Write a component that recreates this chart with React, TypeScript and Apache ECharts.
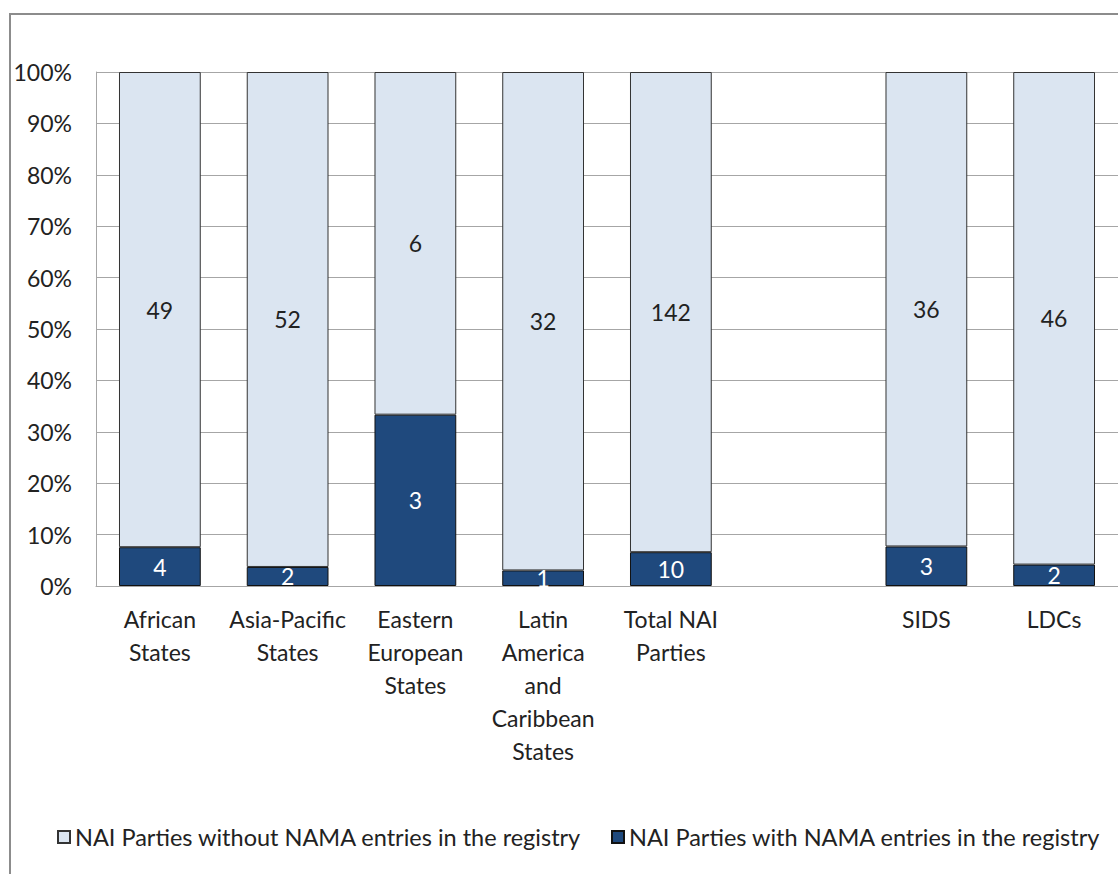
import React, { useEffect, useRef } from "react";
import * as echarts from "echarts";

const categories = [
  "African\nStates",
  "Asia-Pacific\nStates",
  "Eastern\nEuropean\nStates",
  "Latin\nAmerica\nand\nCaribbean\nStates",
  "Total NAI\nParties",
  "",
  "SIDS",
  "LDCs",
];
const withNama: (number | null)[] = [4, 2, 3, 1, 10, null, 3, 2];
const withoutNama: (number | null)[] = [49, 52, 6, 32, 142, null, 36, 46];
const seriesNames = [
  "NAI Parties without NAMA entries in the registry",
  "NAI Parties with NAMA entries in the registry",
];
const yTicks = { min: 0, max: 100, interval: 10 };

const FONT = "Lato";
const FS = 23;

export default function App() {
  const ref = useRef<HTMLDivElement>(null);
  useEffect(() => {
    if (!ref.current) return;
    const chart = echarts.init(ref.current, undefined, { renderer: "svg" });
    const pct = (arr: (number | null)[], i: number) => {
      const a = withNama[i];
      const b = withoutNama[i];
      if (a == null || b == null || arr[i] == null) return null;
      return ((arr[i] as number) / (a + b)) * 100;
    };
    const withPct = withNama.map((_, i) => ({ value: pct(withNama, i), raw: withNama[i] }));
    const withoutPct = withoutNama.map((_, i) => ({ value: pct(withoutNama, i), raw: withoutNama[i] }));
    const legendBase = {
      top: 820,
      itemWidth: 12,
      itemHeight: 12,
      icon: "rect",
      textStyle: { fontFamily: FONT, fontSize: 23.5, color: "#222" },
    };
    chart.setOption({
      animation: false,
      backgroundColor: "#ffffff",
      textStyle: { fontFamily: FONT },
      graphic: [
        {
          type: "rect",
          shape: { x: 10, y: 14, width: 1300, height: 1000 },
          style: { fill: "none", stroke: "#8c8c8c", lineWidth: 2 },
          z: 0,
        },
      ],
      grid: { left: 96, top: 72, bottom: 288, right: -6, containLabel: false },
      legend: [
        { ...legendBase, left: 52, data: [seriesNames[0]] },
        { ...legendBase, left: 606, data: [seriesNames[1]] },
      ],
      xAxis: {
        type: "category",
        data: categories,
        axisTick: { show: false },
        axisLine: { lineStyle: { color: "#a6a6a6", width: 1 } },
        axisLabel: {
          interval: 0,
          margin: 16,
          fontFamily: FONT,
          fontSize: FS,
          lineHeight: 33,
          color: "#222",
          verticalAlign: "top",
        },
      },
      yAxis: {
        type: "value",
        ...yTicks,
        axisLine: { show: true, lineStyle: { color: "#a6a6a6", width: 1 } },
        axisTick: { show: false },
        splitLine: { lineStyle: { color: "#a6a6a6", width: 1 } },
        axisLabel: {
          formatter: "{value}%",
          margin: 24,
          fontFamily: FONT,
          fontSize: FS,
          color: "#222",
        },
      },
      series: [
        {
          name: seriesNames[1],
          type: "bar",
          stack: "total",
          barCategoryGap: "36%",
          data: withPct,
          itemStyle: { color: "#1f497d", borderColor: "#111", borderWidth: 1 },
          label: {
            show: true,
            position: "inside",
            fontFamily: FONT,
            fontSize: FS,
            color: "#ffffff",
            formatter: (p: any) => (p.data && p.data.raw != null ? String(p.data.raw) : ""),
          },
        },
        {
          name: seriesNames[0],
          type: "bar",
          stack: "total",
          barCategoryGap: "36%",
          data: withoutPct,
          itemStyle: { color: "#dbe5f1", borderColor: "#333", borderWidth: 1 },
          label: {
            show: true,
            position: "inside",
            fontFamily: FONT,
            fontSize: FS,
            color: "#222",
            formatter: (p: any) => (p.data && p.data.raw != null ? String(p.data.raw) : ""),
          },
        },
      ],
    });
    return () => chart.dispose();
  }, []);
  return (
    <div
      ref={ref}
      style={{ position: "absolute", left: 0, top: 0, width: 1118, height: 874, overflow: "hidden" }}
    />
  );
}
